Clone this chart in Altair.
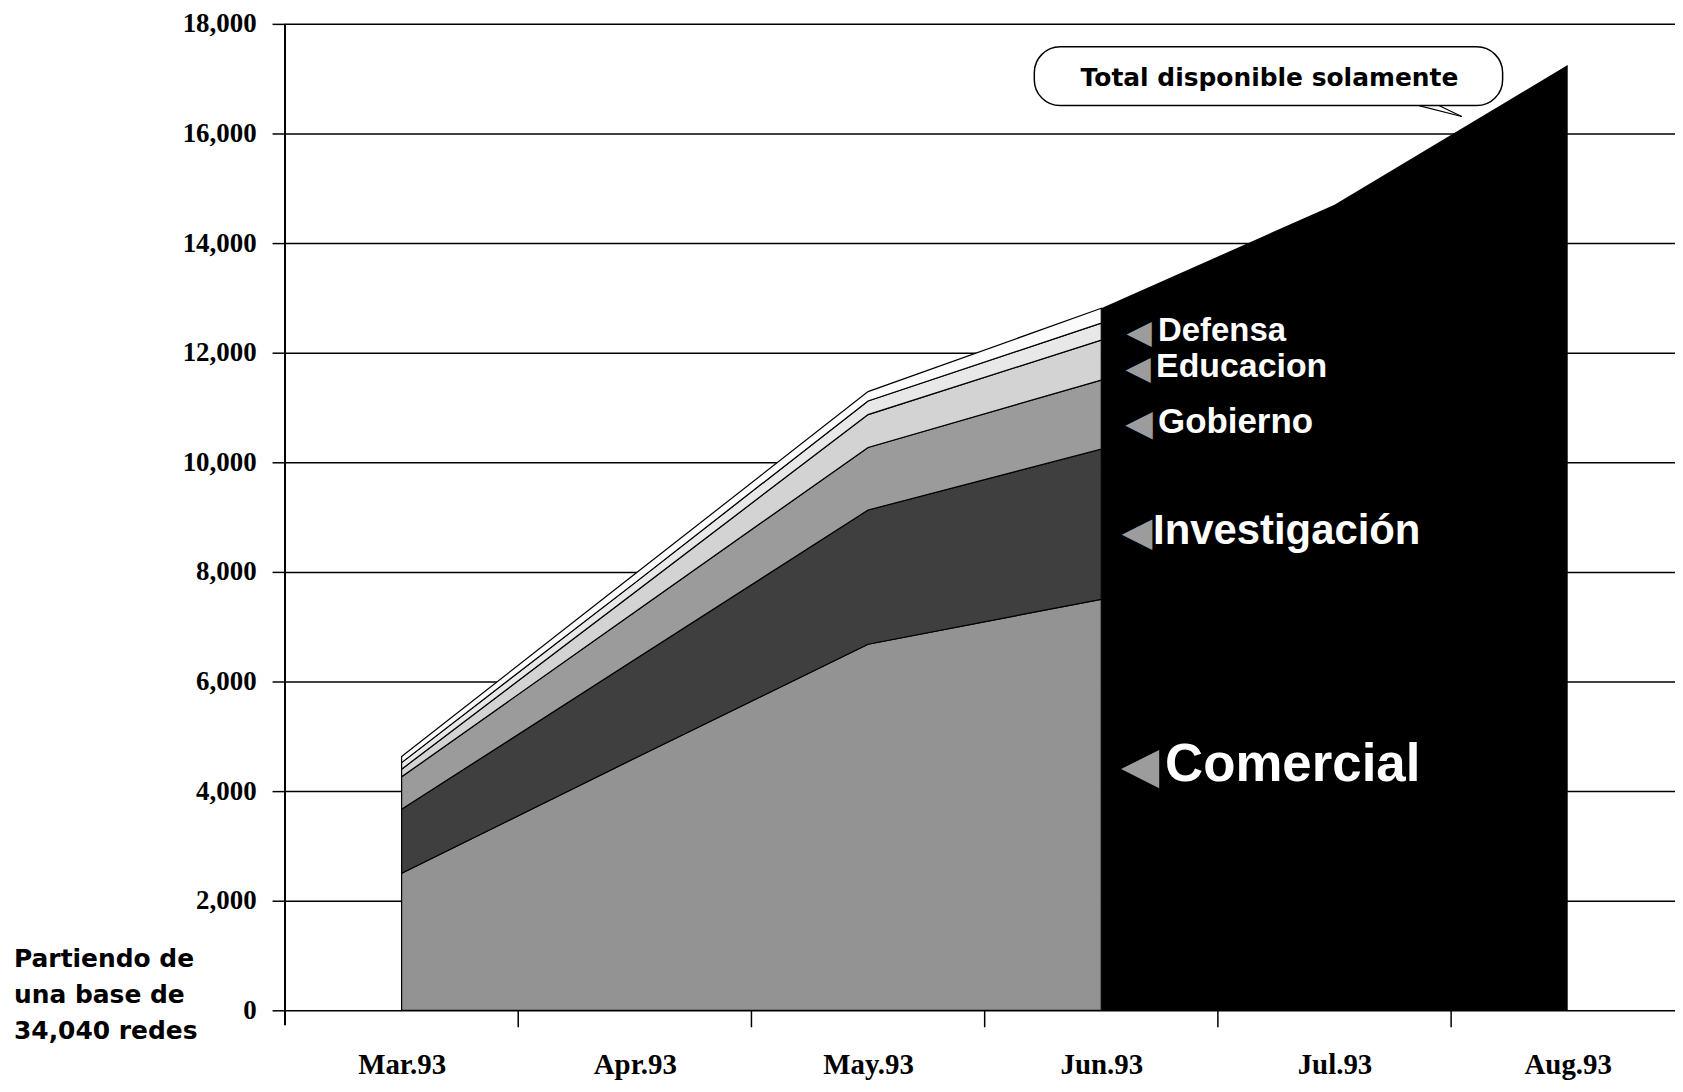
import altair as alt
import pandas as pd

# ---- data ----
months = ["Mar.93", "Apr.93", "May.93", "Jun.93", "Jul.93", "Aug.93"]
series = ["Comercial", "Investigación", "Gobierno", "Educacion", "Defensa", "Otros"]
comercial = [2500, 4600, 6680, 7500]
investigacion = [1170, 1800, 2450, 2740]
gobierno = [590, 870, 1140, 1260]
educacion = [140, 360, 600, 730]
defensa = [120, 170, 250, 310]
otros = [110, 160, 170, 270]
total_months = ["Jun.93", "Jul.93", "Aug.93"]
total_values = [12810, 14700, 17250]
label_names = ["Defensa", "Educacion", "Gobierno", "Investigación", "Comercial"]
label_values = [12390, 11740, 10740, 8750, 4480]
y_ticks = list(range(0, 18001, 2000))
note_lines = ["Partiendo de", "una base de", "34,040 redes"]
callout_text = "Total disponible solamente"

# ---- styles ----
fills = ["#939393", "#3f3f3f", "#9b9b9b", "#d3d3d3", "#e8e8e8", "#fbfbfb"]
label_font_sizes = [33, 34, 35, 42, 53]
label_dx = [57, 55, 57, 52, 64]
arrow_sizes = [33, 33, 36, 40, 50]
arrow_dx = [38, 37, 38, 36, 39]
note_y_px = [939, 975, 1011]

W, H = 1395, 990

rows = []
for si, (name, vals) in enumerate(zip(series, [comercial, investigacion, gobierno, educacion, defensa, otros])):
    for mi, v in enumerate(vals):
        rows.append({"idx": mi, "month": months[mi], "series": name, "value": v, "order": si})
df_stack = pd.DataFrame(rows)
df_total = pd.DataFrame({"idx": [months.index(m) for m in total_months], "value": total_values})
df_bounds = pd.DataFrame({"b": [i + 0.5 for i in range(len(months) - 1)]})
one = pd.DataFrame({"a": [0]})

label_expr = "[" + ",".join(f"'{m}'" for m in months) + "][datum.value]"

xscale = alt.Scale(domain=[-0.5, len(months) - 0.54], nice=False, zero=False)
yscale = alt.Scale(domain=[0, 18000], nice=False)

total = alt.Chart(df_total).mark_area(color="black", interpolate="linear").encode(
    x=alt.X("idx:Q", scale=xscale,
            axis=alt.Axis(values=list(range(len(months))), labelExpr=label_expr, grid=False,
                          ticks=False, domain=False, labelFont="Liberation Serif",
                          labelFontSize=29, labelFontWeight="bold", labelColor="black",
                          labelPadding=40, title=None)),
    y=alt.Y("value:Q", scale=yscale,
            axis=alt.Axis(values=y_ticks, format=",d", grid=True, gridColor="black",
                          gridWidth=1.5, gridOpacity=1, ticks=True, tickColor="black",
                          tickSize=13, tickWidth=1.5, domain=False,
                          labelFont="Liberation Serif", labelFontSize=27,
                          labelFontWeight="bold", labelColor="black", labelPadding=16,
                          title=None)),
)

stack = alt.Chart(df_stack).mark_area(stroke="black", strokeWidth=1.2, interpolate="linear").encode(
    x=alt.X("idx:Q", scale=xscale),
    y=alt.Y("value:Q", stack="zero", scale=yscale),
    color=alt.Color("series:N", scale=alt.Scale(domain=series, range=fills), legend=None),
    order=alt.Order("order:Q"),
)

yline = alt.Chart(one).mark_rule(color="black", strokeWidth=2).encode(
    x=alt.value(0), y=alt.value(0), y2=alt.value(H + 15))

xticks = alt.Chart(df_bounds).mark_rule(color="black", strokeWidth=1.5).encode(
    x=alt.X("b:Q", scale=xscale), y=alt.value(H), y2=alt.value(H + 17))

layers = [total, stack, yline, xticks]

jun_idx = months.index("Jun.93")
for name, val, fs, dx, asz, adx in zip(label_names, label_values, label_font_sizes, label_dx,
                                       arrow_sizes, arrow_dx):
    d = pd.DataFrame({"idx": [jun_idx], "value": [val], "t": [name]})
    arrow = alt.Chart(d).mark_text(text="◀", font="DejaVu Sans", fontSize=asz, color="#9c9c9c",
                                   align="center", baseline="middle", dx=adx, dy=2).encode(
        x=alt.X("idx:Q", scale=xscale), y=alt.Y("value:Q", scale=yscale))
    txt = alt.Chart(d).mark_text(font="Liberation Sans", fontWeight="bold", fontSize=fs,
                                 color="white", align="left", baseline="middle", dx=dx).encode(
        x=alt.X("idx:Q", scale=xscale), y=alt.Y("value:Q", scale=yscale), text="t:N")
    layers += [arrow, txt]

# callout box
box = alt.Chart(one).mark_rect(fill="white", stroke="black", strokeWidth=1.5, cornerRadius=26).encode(
    x=alt.value(752), x2=alt.value(1222), y=alt.value(23), y2=alt.value(82))
tail1 = alt.Chart(one).mark_rule(color="black", strokeWidth=1.2).encode(
    x=alt.value(1138), x2=alt.value(1181), y=alt.value(82), y2=alt.value(93))
tail2 = alt.Chart(one).mark_rule(color="black", strokeWidth=1.2).encode(
    x=alt.value(1158), x2=alt.value(1181), y=alt.value(82), y2=alt.value(93))
ctext = alt.Chart(pd.DataFrame({"t": [callout_text]})).mark_text(
    font="DejaVu Sans", fontWeight="bold", fontSize=25, color="black",
    align="center", baseline="middle").encode(x=alt.value(988), y=alt.value(54), text="t:N")
layers += [box, tail1, tail2, ctext]

for line, ypx in zip(note_lines, note_y_px):
    note = alt.Chart(pd.DataFrame({"t": [line]})).mark_text(
        font="DejaVu Sans", fontWeight="bold", fontSize=25, color="black",
        align="left", baseline="middle").encode(x=alt.value(-272), y=alt.value(ypx), text="t:N")
    layers.append(note)

chart = alt.layer(*layers).properties(
    width=W, height=H,
    autosize=alt.AutoSizeParams(type="none"),
    padding={"left": 278, "top": 14, "right": 0, "bottom": 68},
).configure_view(stroke=None)

chart.save("out.html", embed_options={"renderer": "svg", "actions": False})
